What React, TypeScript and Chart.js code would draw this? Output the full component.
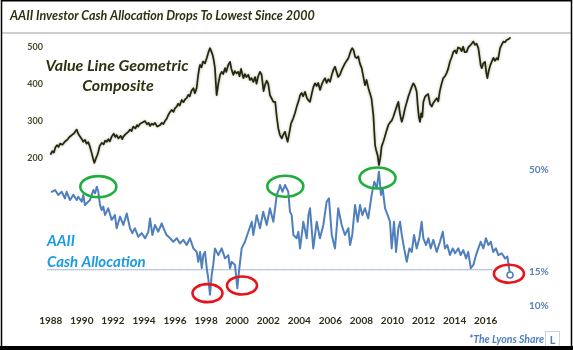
import React, { useEffect, useRef } from "react";
import { Chart, registerables } from "chart.js";

Chart.register(...registerables);

const titleText = "AAII Investor Cash Allocation Drops To Lowest Since 2000";
const vlLabelLines = ["Value Line Geometric", "Composite"];
const cashLabelLines = ["AAII", "Cash Allocation"];
const creditText = "*The Lyons Share";

const xTickYears = [1988, 1990, 1992, 1994, 1996, 1998, 2000, 2002, 2004, 2006, 2008, 2010, 2012, 2014, 2016];
const leftTicks = [200, 300, 400, 500];
const rightTicks = [10, 15, 50];

// Value Line Geometric Composite
const vlYears = [
  1988.0, 1988.1, 1988.2, 1988.3, 1988.4, 1988.5, 1988.6, 1988.75, 1988.9, 1989.05,
  1989.2, 1989.35, 1989.5, 1989.6, 1989.67, 1989.75, 1989.88, 1990.0, 1990.09, 1990.2,
  1990.3, 1990.41, 1990.5, 1990.63, 1990.72, 1990.8, 1990.9, 1991.0, 1991.06, 1991.15,
  1991.28, 1991.4, 1991.5, 1991.6, 1991.7, 1991.8, 1991.92, 1992.05, 1992.15, 1992.24,
  1992.35, 1992.5, 1992.6, 1992.67, 1992.8, 1992.99, 1993.1, 1993.2, 1993.31, 1993.45,
  1993.55, 1993.63, 1993.75, 1993.9, 1994.07, 1994.2, 1994.3, 1994.39, 1994.5, 1994.6,
  1994.71, 1994.85, 1995.03, 1995.15, 1995.25, 1995.35, 1995.46, 1995.55, 1995.65, 1995.78,
  1995.9, 1996.0, 1996.11, 1996.2, 1996.3, 1996.43, 1996.55, 1996.65, 1996.75, 1996.85,
  1996.95, 1997.05, 1997.18, 1997.28, 1997.39, 1997.48, 1997.55, 1997.61, 1997.7, 1997.8,
  1997.93, 1998.05, 1998.15, 1998.25, 1998.33, 1998.42, 1998.5, 1998.57, 1998.63, 1998.68,
  1998.78, 1998.9, 1999.0, 1999.1, 1999.22, 1999.3, 1999.42, 1999.54, 1999.63, 1999.75,
  1999.85, 1999.95, 2000.07, 2000.15, 2000.25, 2000.4, 2000.5, 2000.6, 2000.72, 2000.82,
  2000.92, 2001.04, 2001.15, 2001.25, 2001.35, 2001.47, 2001.57, 2001.7, 2001.79, 2001.9,
  2002.0, 2002.11, 2002.22, 2002.33, 2002.45, 2002.55, 2002.65, 2002.75, 2002.87, 2002.97,
  2003.08, 2003.17, 2003.25, 2003.35, 2003.47, 2003.6, 2003.72, 2003.85, 2004.0, 2004.05,
  2004.15, 2004.25, 2004.37, 2004.5, 2004.6, 2004.69, 2004.8, 2004.9, 2005.01, 2005.12,
  2005.22, 2005.34, 2005.45, 2005.55, 2005.66, 2005.76, 2005.87, 2005.98, 2006.1, 2006.2,
  2006.3, 2006.4, 2006.5, 2006.62, 2006.72, 2006.82, 2006.94, 2007.05, 2007.16, 2007.25,
  2007.33, 2007.41, 2007.5, 2007.6, 2007.7, 2007.8, 2007.9, 2008.02, 2008.12, 2008.23,
  2008.33, 2008.45, 2008.55, 2008.65, 2008.77, 2008.83, 2008.88, 2008.95, 2009.05, 2009.13,
  2009.22, 2009.3, 2009.41, 2009.5, 2009.6, 2009.73, 2009.84, 2009.95, 2010.05, 2010.16,
  2010.27, 2010.38, 2010.48, 2010.55, 2010.6, 2010.7, 2010.81, 2010.92, 2011.02, 2011.13,
  2011.23, 2011.34, 2011.45, 2011.56, 2011.63, 2011.7, 2011.77, 2011.85, 2011.92, 2011.99,
  2012.1, 2012.2, 2012.3, 2012.42, 2012.53, 2012.63, 2012.75, 2012.85, 2012.95, 2013.05,
  2013.15, 2013.27, 2013.38, 2013.5, 2013.6, 2013.7, 2013.8, 2013.92, 2014.02, 2014.12,
  2014.22, 2014.35, 2014.45, 2014.55, 2014.65, 2014.78, 2014.88, 2014.98, 2015.1, 2015.21,
  2015.32, 2015.42, 2015.53, 2015.62, 2015.68, 2015.75, 2015.85, 2015.96, 2016.04, 2016.11,
  2016.2, 2016.3, 2016.39, 2016.5, 2016.6, 2016.71, 2016.8, 2016.93, 2017.03, 2017.14,
  2017.25, 2017.35, 2017.46, 2017.57,
];
const vlValues = [
  210, 218, 214, 228, 234, 229, 238, 235, 243, 248,
  256, 261, 266, 272, 276, 266, 257, 250, 243, 248,
  238, 242, 232, 213, 198, 186, 197, 208, 216, 232,
  240, 236, 246, 243, 250, 244, 257, 265, 256, 261,
  252, 259, 250, 257, 263, 270, 276, 272, 284, 279,
  288, 284, 292, 295, 299, 290, 294, 286, 292, 289,
  294, 284, 288, 294, 291, 299, 305, 314, 322, 329,
  324, 334, 338, 346, 341, 356, 350, 358, 361, 370,
  366, 380, 388, 374, 388, 420, 440, 451, 444, 460,
  455, 470, 485, 496, 488, 478, 462, 442, 400, 369,
  398, 424, 432, 426, 442, 432, 450, 459, 440, 424,
  434, 428, 432, 420, 440, 415, 426, 418, 424, 410,
  415, 405, 418, 400, 420, 432, 425, 380, 396, 408,
  400, 369, 360, 351, 351, 310, 279, 262, 252, 262,
  270, 255, 243, 265, 293, 305, 320, 340, 360, 369,
  375, 366, 378, 360, 355, 351, 372, 390, 401, 394,
  402, 383, 398, 408, 415, 402, 412, 405, 425, 438,
  446, 432, 418, 424, 436, 445, 455, 462, 469, 480,
  490, 496, 490, 472, 469, 474, 455, 442, 420, 396,
  410, 388, 374, 360, 315, 270, 234, 220, 205, 180,
  200, 230, 243, 255, 270, 288, 295, 300, 310, 324,
  338, 351, 320, 305, 297, 312, 334, 350, 365, 378,
  390, 401, 394, 378, 340, 310, 297, 320, 310, 351,
  365, 369, 372, 345, 338, 348, 355, 361, 352, 380,
  398, 415, 420, 430, 442, 460, 470, 486, 490, 482,
  498, 496, 488, 500, 485, 486, 498, 502, 508, 514,
  505, 508, 496, 470, 450, 442, 455, 459, 430, 415,
  435, 450, 459, 470, 462, 469, 465, 496, 505, 514,
  512, 518, 520, 524,
];

// AAII cash allocation (%)
const cashYears = [
  1988.06, 1988.27, 1988.48, 1988.7, 1988.91, 1989.02, 1989.24, 1989.45, 1989.67, 1989.77,
  1989.99, 1990.09, 1990.2, 1990.52, 1990.74, 1990.85, 1990.96, 1991.06, 1991.17, 1991.28,
  1991.38, 1991.49, 1991.7, 1991.92, 1992.13, 1992.24, 1992.46, 1992.67, 1992.89, 1993.1,
  1993.25, 1993.42, 1993.63, 1993.85, 1994.07, 1994.28, 1994.39, 1994.54, 1994.71, 1994.92,
  1995.14, 1995.35, 1995.46, 1995.68, 1995.89, 1996.11, 1996.32, 1996.53, 1996.75, 1996.96,
  1997.18, 1997.39, 1997.5, 1997.61, 1997.72, 1997.82, 1997.93, 1998.04, 1998.14, 1998.25,
  1998.36, 1998.46, 1998.57, 1998.79, 1999.0, 1999.22, 1999.43, 1999.54, 1999.65, 1999.86,
  2000.01, 2000.14, 2000.29, 2000.5, 2000.72, 2000.94, 2001.04, 2001.26, 2001.47, 2001.68,
  2001.9, 2002.11, 2002.33, 2002.55, 2002.71, 2002.76, 2002.91, 2003.08, 2003.29, 2003.4,
  2003.51, 2003.62, 2003.83, 2003.94, 2004.05, 2004.26, 2004.48, 2004.59, 2004.69, 2004.9,
  2005.12, 2005.33, 2005.55, 2005.76, 2005.91, 2006.09, 2006.3, 2006.51, 2006.73, 2006.94,
  2007.16, 2007.27, 2007.41, 2007.59, 2007.76, 2007.91, 2008.06, 2008.23, 2008.44, 2008.66,
  2008.83, 2008.99, 2009.13, 2009.26, 2009.37, 2009.52, 2009.69, 2009.84, 2009.95, 2010.1,
  2010.23, 2010.38, 2010.49, 2010.6, 2010.75, 2010.92, 2011.09, 2011.24, 2011.39, 2011.56,
  2011.73, 2011.88, 2011.99, 2012.16, 2012.31, 2012.46, 2012.63, 2012.85, 2013.06, 2013.24,
  2013.38, 2013.53, 2013.7, 2013.88, 2014.03, 2014.24, 2014.39, 2014.56, 2014.74, 2014.88,
  2015.04, 2015.21, 2015.38, 2015.53, 2015.68, 2015.85, 2016.02, 2016.18, 2016.33, 2016.49,
  2016.66, 2016.82, 2017.03, 2017.25, 2017.4, 2017.57,
];
const cashValues = [
  38.5, 39.3, 37.1, 38.5, 35.6, 38.5, 34.9, 37.1, 34.9, 36.3,
  34.2, 37.1, 32.9, 34.9, 39.3, 37.8, 40.9, 38.5, 32.9, 31.0,
  32.3, 29.2, 31.7, 27.6, 29.2, 25.0, 28.7, 26.0, 29.8, 25.0,
  23.6, 25.0, 22.6, 23.6, 22.2, 24.0, 28.1, 23.1, 26.0, 24.0,
  26.5, 24.0, 23.1, 22.2, 21.3, 22.2, 20.9, 21.8, 20.5, 22.2,
  19.7, 18.9, 16.8, 18.9, 15.6, 18.2, 18.9, 15.6, 13.8, 11.4,
  14.4, 16.2, 19.7, 18.2, 19.7, 17.5, 18.2, 15.6, 16.8, 16.2,
  12.3, 15.6, 19.7, 21.3, 24.0, 27.0, 23.1, 29.2, 25.0, 30.4,
  26.0, 31.7, 27.0, 37.1, 40.1, 41.7, 38.5, 41.7, 38.5, 30.4,
  29.2, 23.1, 22.2, 24.0, 19.7, 27.0, 22.2, 29.2, 31.7, 19.7,
  27.0, 22.2, 26.0, 34.2, 35.6, 23.1, 19.7, 31.7, 26.0, 23.1,
  25.0, 20.5, 23.1, 32.9, 27.0, 32.9, 29.2, 31.7, 28.1, 37.1,
  43.4, 40.1, 48.8, 37.1, 40.1, 31.7, 29.2, 27.0, 19.7, 27.0,
  18.9, 25.0, 27.0, 23.1, 19.7, 16.8, 19.7, 18.9, 23.1, 19.7,
  22.2, 27.0, 22.2, 20.5, 22.2, 19.7, 21.8, 18.9, 21.3, 24.0,
  19.7, 20.5, 18.2, 19.7, 18.6, 19.7, 18.2, 19.3, 17.5, 18.9,
  15.6, 16.2, 18.2, 19.7, 21.3, 19.7, 22.2, 20.5, 21.3, 18.9,
  19.7, 18.2, 18.6, 17.5, 17.9, 14.4,
];

const refLineYears = [1987.76, 2016.45];
const refLineValue = 15.3;

const greenMarkYears = [1991.06, 2003.1, 2009.04];
const greenMarkValues = [40.9, 41.1, 45.3];
const redMarkYears = [1998.09, 2000.31, 2017.5];
const redMarkValues = [11.6, 12.7, 14.6];

const FONT = "Lato, 'Open Sans', sans-serif";

export default function App() {
  const ref = useRef<HTMLCanvasElement | null>(null);

  useEffect(() => {
    const canvas = ref.current;
    if (!canvas) return;

    const deco = {
      id: "deco",
      beforeDraw(chart: any) {
        const c = chart.ctx;
        c.save();
        c.fillStyle = "#ffffff";
        c.fillRect(0, 0, chart.width, chart.height);
        c.restore();
      },
      beforeDatasetDraw(chart: any, args: any) {
        if (args.index === 0) {
          const c = chart.ctx;
          c.save();
          c.shadowColor = "rgba(80,90,40,0.5)";
          c.shadowBlur = 2.5;
        }
      },
      afterDatasetDraw(chart: any, args: any) {
        if (args.index === 0) chart.ctx.restore();
      },
      afterDatasetsDraw(chart: any) {
        const c = chart.ctx;
        const xs = chart.scales.x;
        const ys = chart.scales.y1;
        const drawEll = (xv: number, yv: number, rx: number, ry: number, col: string) => {
          c.beginPath();
          c.ellipse(xs.getPixelForValue(xv), ys.getPixelForValue(yv), rx, ry, 0, 0, Math.PI * 2);
          c.strokeStyle = col;
          c.lineWidth = 2.6;
          c.stroke();
        };
        c.save();
        greenMarkYears.forEach((yr, i) => drawEll(yr, greenMarkValues[i], 18, 10.5, "#1fae3c"));
        redMarkYears.forEach((yr, i) => drawEll(yr, redMarkValues[i], 15, 9, "#e8141c"));
        c.restore();
      },
      afterDraw(chart: any) {
        const c = chart.ctx;
        c.save();
        // title
        c.fillStyle = "#2b3210";
        c.font = `italic bold 12.5px ${FONT}`;
        c.textBaseline = "middle";
        c.textAlign = "left";
        c.fillText(titleText, 10, 16);
        // separator
        c.strokeStyle = "#cfcfcf";
        c.lineWidth = 2;
        c.beginPath();
        c.moveTo(2, 33);
        c.lineTo(571, 33);
        c.stroke();
        // series labels
        c.fillStyle = "#2e3210";
        c.font = `italic bold 16px ${FONT}`;
        c.textAlign = "center";
        c.fillText(vlLabelLines[0], 117, 66);
        c.fillText(vlLabelLines[1], 118, 86);
        c.fillStyle = "#1a9be2";
        c.font = `italic bold 15px ${FONT}`;
        c.textAlign = "left";
        c.fillText(cashLabelLines[0], 47, 241);
        c.fillText(cashLabelLines[1], 47, 262);
        // credit
        c.fillStyle = "#4f7fc0";
        c.font = `italic bold 10.5px ${FONT}`;
        c.fillText(creditText, 469, 340);
        c.strokeStyle = "#c9d3e3";
        c.lineWidth = 1;
        c.strokeRect(545.5, 331.5, 14, 16);
        c.font = `bold 11px ${FONT}`;
        c.fillStyle = "#4f7fc0";
        c.textAlign = "center";
        c.fillText("L", 552.5, 340);
        // frame
        c.strokeStyle = "#000000";
        c.lineWidth = 1.5;
        c.beginPath();
        c.moveTo(1, 0.75);
        c.lineTo(572, 0.75);
        c.moveTo(1.5, 0);
        c.lineTo(1.5, 350);
        c.moveTo(571.5, 0);
        c.lineTo(571.5, 350);
        c.stroke();
        c.fillStyle = "#000000";
        c.fillRect(0, 346, 573, 4);
        c.restore();
      },
    };

    const chart = new Chart(canvas, {
      type: "line",
      data: {
        datasets: [
          {
            label: "Value Line Geometric Composite",
            data: vlYears.map((x, i) => ({ x, y: vlValues[i] })),
            yAxisID: "y",
            borderColor: "#26260e",
            borderWidth: 1.7,
            pointRadius: 0,
            tension: 0,
          },
          {
            label: "AAII Cash Allocation",
            data: cashYears.map((x, i) => ({ x, y: cashValues[i] })),
            yAxisID: "y1",
            borderColor: "#4f7fbd",
            borderWidth: 2,
            pointRadius: (ctx: any) => (ctx.dataIndex === cashValues.length - 1 ? 3 : 0),
            pointBackgroundColor: "#ffffff",
            pointBorderColor: "#4f7fbd",
            pointBorderWidth: 1.5,
            tension: 0,
          },
          {
            label: "ref",
            data: refLineYears.map((x) => ({ x, y: refLineValue })),
            yAxisID: "y1",
            borderColor: "#93a9cc",
            borderWidth: 1,
            borderDash: [1, 1],
            pointRadius: 0,
          },
        ],
      },
      options: {
        responsive: false,
        animation: false,
        devicePixelRatio: 1,
        layout: { padding: { top: 36, left: 0, right: 0, bottom: 0 } },
        plugins: { legend: { display: false }, tooltip: { enabled: false }, title: { display: false } },
        elements: { line: { borderJoinStyle: "round", borderCapStyle: "round" } },
        scales: {
          x: {
            type: "linear",
            min: 1987.755,
            max: 2018.534,
            grid: { display: false, drawTicks: false },
            border: { display: false },
            afterBuildTicks: (s: any) => {
              s.ticks = xTickYears.map((v) => ({ value: v }));
            },
            afterFit: (s: any) => {
              s.height = 40;
            },
            ticks: {
              autoSkip: false,
              maxRotation: 0,
              padding: 5,
              color: "#2e2e16",
              font: { family: FONT, size: 10, weight: "bold" },
              callback: (v: any) => String(v),
            },
          },
          y: {
            type: "linear",
            position: "left",
            min: -211.6,
            max: 528.9,
            grid: { display: false, drawTicks: false },
            border: { display: false },
            afterBuildTicks: (s: any) => {
              s.ticks = leftTicks.map((v) => ({ value: v }));
            },
            afterFit: (s: any) => {
              s.width = 47;
            },
            ticks: {
              padding: 4,
              color: "#4a4a30",
              font: { family: FONT, size: 9, weight: "bold" },
              callback: (v: any) => String(v),
            },
          },
          y1: {
            type: "logarithmic",
            position: "right",
            min: 9.504,
            max: 243.2,
            grid: { display: false, drawTicks: false },
            border: { display: false },
            afterBuildTicks: (s: any) => {
              s.ticks = rightTicks.map((v) => ({ value: v }));
            },
            afterFit: (s: any) => {
              s.width = 48;
            },
            ticks: {
              padding: 4,
              color: "#5b80b8",
              font: { family: FONT, size: 10, weight: "bold" },
              callback: (v: any) => `${v}%`,
            },
          },
        },
      },
      plugins: [deco],
    } as any);

    return () => chart.destroy();
  }, []);

  return (
    <div style={{ position: "absolute", left: 0, top: 0, width: 573, height: 350 }}>
      <canvas ref={ref} width={573} height={350} style={{ display: "block" }} />
    </div>
  );
}
